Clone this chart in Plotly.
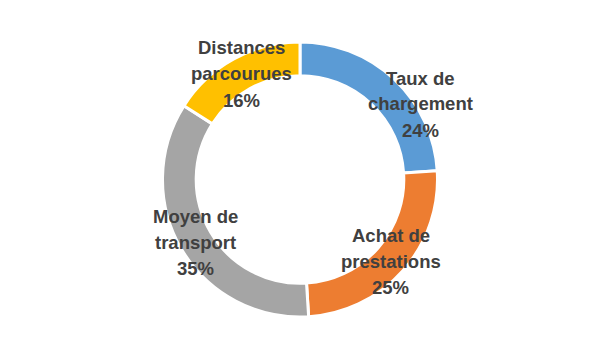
import plotly.graph_objects as go

categories = ["Taux de chargement", "Achat de prestations", "Moyen de transport", "Distances parcourues"]
label_lines = [["Taux de", "chargement"], ["Achat de", "prestations"], ["Moyen de", "transport"], ["Distances", "parcourues"]]
values = [24, 25, 35, 16]
colors = ["#5B9BD5", "#ED7D31", "#A5A5A5", "#FFC000"]

# label anchor positions in pixels (center of middle line; layout only)
label_px = [(420, 104), (391, 261), (195, 242), (241, 74)]
LINE_STEP = 26

W, H = 600, 360
CY = 179.5
R = 137.5
fig = go.Figure(go.Pie(
    labels=categories,
    values=values,
    sort=False,
    direction="clockwise",
    rotation=0,
    hole=0.755,
    marker=dict(colors=colors, line=dict(color="white", width=3)),
    textinfo="none",
    hoverinfo="label+percent",
    showlegend=False,
    domain=dict(x=[0, 1], y=[(H - CY - R) / H, (H - CY + R) / H]),
))

total = sum(values)
annotations = []
for lines, v, (px, py) in zip(label_lines, values, label_px):
    pct = round(100 * v / total)
    all_lines = lines + [f"{pct}%"]
    for i, line in enumerate(all_lines):
        ly = py + (i - 1) * LINE_STEP
        annotations.append(dict(
            x=px / W, y=1 - ly / H, xref="paper", yref="paper",
            text=line, showarrow=False,
            xanchor="center", yanchor="middle", align="center",
            font=dict(family="Liberation Sans", size=18.5, color="#404040", weight="bold"),
        ))

fig.update_layout(
    width=W, height=H,
    margin=dict(l=0, r=0, t=0, b=0),
    paper_bgcolor="white",
    plot_bgcolor="white",
    annotations=annotations,
)

fig.write_html("out.html", config={"displayModeBar": False},
               post_script="document.body.style.margin='0';")
